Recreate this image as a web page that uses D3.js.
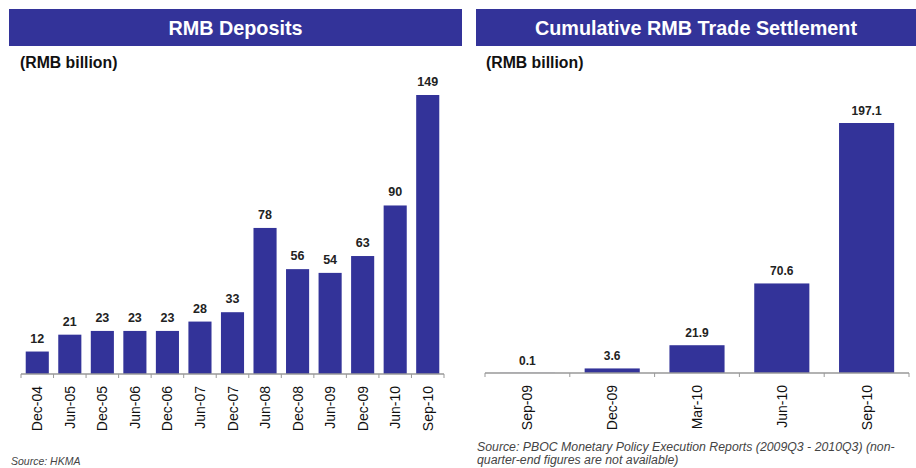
<!DOCTYPE html>
<html><head><meta charset="utf-8">
<script src="https://cdn.jsdelivr.net/npm/d3@7"></script>
<style>
html,body{margin:0;padding:0;background:#fff;}
svg{display:block;font-family:"Liberation Sans",Arial,sans-serif;}
</style></head>
<body>
<svg id="c" width="916" height="468"></svg>
<script>
// ---- Data ----
const depositCategories = ["Dec-04","Jun-05","Dec-05","Jun-06","Dec-06","Jun-07","Dec-07","Jun-08","Dec-08","Jun-09","Dec-09","Jun-10","Sep-10"];
const depositValues = [12,21,23,23,23,28,33,78,56,54,63,90,149];
const depositLabels = ["12","21","23","23","23","28","33","78","56","54","63","90","149"];

const settlementCategories = ["Sep-09","Dec-09","Mar-10","Jun-10","Sep-10"];
const settlementValues = [0.1,3.6,21.9,70.6,197.1];
const settlementLabels = ["0.1","3.6","21.9","70.6","197.1"];

const titles = ["RMB Deposits","Cumulative RMB Trade Settlement"];
const unitLabel = "(RMB billion)";
const sourceLeft = ["Source: HKMA"];
const sourceRight = ["Source: PBOC Monetary Policy Execution Reports (2009Q3 - 2010Q3) (non-","quarter-end figures are not available)"];

// ---- Drawing ----
const svg = d3.select("#c");
const NAVY = "#333399";

function panel(cfg){
  const g = svg.append("g");
  // title bar
  g.append("rect").attr("x",cfg.tx0).attr("y",9).attr("width",cfg.tx1-cfg.tx0).attr("height",37).attr("fill",NAVY);
  g.append("text").attr("x",(cfg.tx0+cfg.tx1)/2).attr("y",34.5).attr("text-anchor","middle")
    .attr("fill","#fff").attr("font-weight","bold").attr("font-size",19.8).text(cfg.title);
  g.append("text").attr("x",cfg.ux).attr("y",68).attr("font-weight","bold").attr("font-size",15.8).attr("fill","#111").text(unitLabel);

  const x = d3.scaleBand().domain(cfg.cats).range([cfg.x0,cfg.x1]).paddingInner(cfg.pad).paddingOuter(cfg.pad/2);
  const y = d3.scaleLinear().domain([0,cfg.ymax]).range([cfg.base,cfg.ytop]);

  g.selectAll("rect.bar").data(cfg.vals).join("rect").attr("class","bar")
    .attr("x",(d,i)=>x(cfg.cats[i])).attr("width",x.bandwidth())
    .attr("y",d=>y(d)).attr("height",d=>y(0)-y(d)).attr("fill",NAVY);

  g.selectAll("text.val").data(cfg.vals).join("text").attr("class","val")
    .attr("x",(d,i)=>x(cfg.cats[i])+x.bandwidth()/2).attr("y",d=>y(d)-cfg.lgap)
    .attr("text-anchor","middle").attr("font-weight","bold").attr("font-size",cfg.vfs).attr("fill","#222")
    .text((d,i)=>cfg.labels[i]);

  // axis line + boundary ticks
  const half = (x.step()-x.bandwidth())/2;
  const bounds = cfg.cats.map(c=>x(c)-half).concat([x(cfg.cats[cfg.cats.length-1])+x.bandwidth()+half]);
  g.append("line").attr("x1",cfg.x0).attr("x2",cfg.x1).attr("y1",y(0)).attr("y2",y(0)).attr("stroke","#999").attr("stroke-width",1.5);
  g.selectAll("line.tk").data(bounds).join("line").attr("class","tk")
    .attr("x1",d=>d).attr("x2",d=>d).attr("y1",y(0)).attr("y2",y(0)+4).attr("stroke","#999");

  g.selectAll("text.cat").data(cfg.cats).join("text").attr("class","cat")
    .attr("transform",d=>`translate(${x(d)+x.bandwidth()/2+5},${y(0)+12}) rotate(-90)`)
    .attr("text-anchor","end").attr("font-size",14).attr("fill","#111").text(d=>d);

  cfg.src.forEach((s,i)=>{
    g.append("text").attr("x",cfg.sx).attr("y",cfg.sy+i*cfg.slh).attr("font-style","italic").attr("font-size",cfg.sfs).attr("fill","#444").text(s);
  });
}

panel({tx0:9,tx1:462,title:titles[0],ux:20,cats:depositCategories,vals:depositValues,labels:depositLabels,
  x0:21,x1:444,pad:0.29,ymax:160,base:374,ytop:374-160*1.8725,lgap:9,vfs:12.5,src:sourceLeft,sx:11,sy:464.5,sfs:10.5,slh:12});
panel({tx0:476,tx1:916,title:titles[1],ux:486,cats:settlementCategories,vals:settlementValues,labels:settlementLabels,
  x0:485,x1:909,pad:0.35,ymax:220,base:373,ytop:373-220*1.2684,lgap:8,vfs:12,src:sourceRight,sx:477,sy:451,sfs:12.3,slh:12.5});
</script>
</body></html>
